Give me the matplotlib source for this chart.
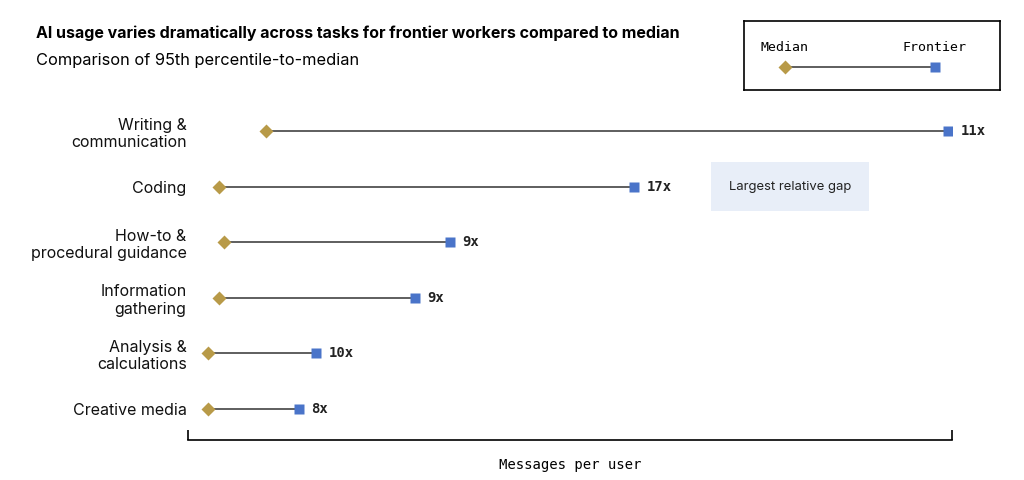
import matplotlib.pyplot as plt

# Data (arbitrary "messages per user" scale, axis 0-100)
tasks = ['Writing &\ncommunication', 'Coding', 'How-to &\nprocedural guidance',
         'Information\ngathering', 'Analysis &\ncalculations', 'Creative media']
median = [10.2, 4.1, 4.7, 4.1, 2.6, 2.6]
frontier = [99.5, 58.4, 34.3, 29.7, 16.8, 14.5]
ratio_labels = ['11x', '17x', '9x', '9x', '10x', '8x']

gold = '#B89A48'
blue = '#4A74C9'
line_col = '#333333'
sans = ['Inter', 'DejaVu Sans']
mono = ['DejaVu Sans Mono']

fig = plt.figure(figsize=(10.24, 4.8), dpi=100)
ax = fig.add_axes([188 / 1024, 40 / 480, 764 / 1024, 340 / 480])

ypos = list(range(len(tasks)))
for y, m, f, lab in zip(ypos, median, frontier, ratio_labels):
    ax.plot([m, f], [y, y], color=line_col, lw=1.1, zorder=1)
    ax.plot(m, y, marker='D', ms=7, color=gold, mec='none', zorder=2)
    ax.plot(f, y, marker='s', ms=7, color=blue, mec='none', zorder=2)
    ax.annotate(lab, (f, y), xytext=(9, 0), textcoords='offset points',
                va='center', ha='left', fontsize=10, fontweight='bold',
                family=mono, color='#222222')

# callout next to Coding
ax.text(78.8, 1, 'Largest relative gap', ha='center', va='center', fontsize=9.4,
        family=sans, color='#222222',
        bbox=dict(boxstyle='square,pad=1.4', fc='#E8EEF8', ec='none'))

ax.set_xlim(0, 100)
ax.set_ylim(len(tasks) - 0.44, -0.56)
ax.set_yticks(ypos)
ax.set_yticklabels(tasks, fontsize=11.5, family=sans, color='#111111')
ax.tick_params(axis='y', length=0, pad=1)
ax.set_xticks([0, 100])
ax.tick_params(axis='x', direction='in', length=7, width=1.2, labelbottom=False)
for s in ['top', 'right', 'left']:
    ax.spines[s].set_visible(False)
ax.spines['bottom'].set_linewidth(1.2)
ax.set_xlabel('Messages per user', family=mono, fontsize=10, labelpad=13)

fig.text(36 / 1024, 1 - 33 / 480,
         'AI usage varies dramatically across tasks for frontier workers compared to median',
         fontsize=11.5, fontweight='bold', family=sans, va='center')
fig.text(36 / 1024, 1 - 61 / 480, 'Comparison of 95th percentile-to-median',
         fontsize=11.8, family=sans, va='center')

# legend box
lg = fig.add_axes([744 / 1024, 1 - 90 / 480, 256 / 1024, 69 / 480])
lg.set_xlim(0, 1)
lg.set_ylim(0, 1)
lg.set_xticks([])
lg.set_yticks([])
for s in lg.spines.values():
    s.set_linewidth(1.2)
lg.plot([0.16, 0.746], [0.33, 0.33], color=line_col, lw=1.1)
lg.plot(0.16, 0.33, marker='D', ms=7, color=gold, mec='none')
lg.plot(0.746, 0.33, marker='s', ms=7, color=blue, mec='none')
lg.text(0.16, 0.62, 'Median', ha='center', va='center', family=mono, fontsize=9.5)
lg.text(0.746, 0.62, 'Frontier', ha='center', va='center', family=mono, fontsize=9.5)

plt.savefig('out.png', dpi=100)
